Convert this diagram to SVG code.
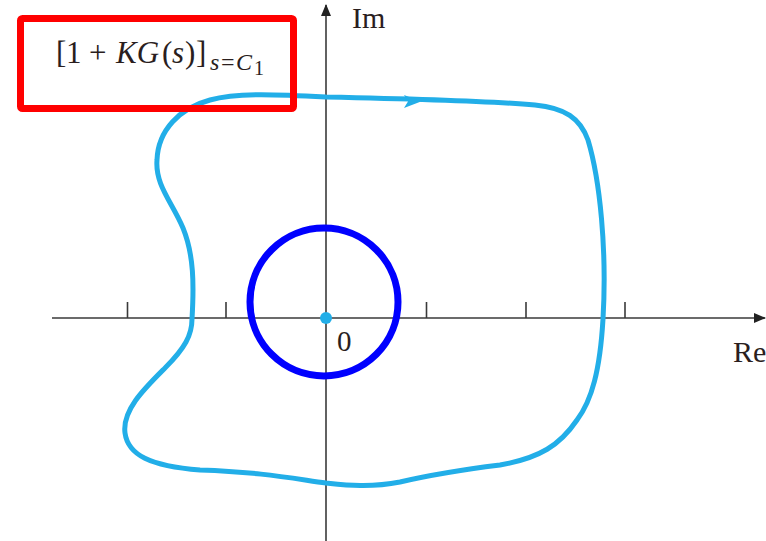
<svg xmlns="http://www.w3.org/2000/svg" width="766" height="541" viewBox="0 0 766 541">
<style>
.axis{stroke:#3a3a3a;stroke-width:1.6;fill:none}
.tick{stroke:#3a3a3a;stroke-width:1.6}
.lbl{font-family:"Liberation Serif","Times New Roman",serif;fill:#2a1e1e}
.contour{fill:none;stroke:#22aee8;stroke-width:5;stroke-linejoin:round}
</style>
<defs>
<marker id="ah" viewBox="0 0 12 10" refX="11" refY="5" markerWidth="12" markerHeight="10" markerUnits="userSpaceOnUse" orient="auto">
<path d="M0,0 L12,5 L0,10 Z" fill="#222"/>
</marker>
</defs>
<rect width="766" height="541" fill="#fff"/>
<g id="connectors">
<line class="axis" x1="52" y1="318" x2="765" y2="318" marker-end="url(#ah)"/>
<line class="axis" x1="326" y1="541" x2="326" y2="5" marker-end="url(#ah)"/>
<line class="tick" x1="127.5" y1="302" x2="127.5" y2="318"/>
<line class="tick" x1="226" y1="302" x2="226" y2="318"/>
<line class="tick" x1="426.5" y1="302" x2="426.5" y2="318"/>
<line class="tick" x1="526" y1="302" x2="526" y2="318"/>
<line class="tick" x1="625" y1="302" x2="625" y2="318"/>
</g>
<g id="contour">
<path class="contour" d="M 326 97 C 420 99, 500 102, 535 105 C 565 108, 580 118, 588 140 C 600 180, 607 250, 603 319 C 600 370, 592 400, 577 420 C 560 445, 540 458, 500 465 C 460 470, 430 475, 400 482 C 370 488, 345 485, 326 483 C 290 478, 260 472, 200 470 C 150 466, 128 455, 125 433 C 122 410, 145 388, 165 368 C 185 348, 192 335, 192 319 C 194 285, 194 255, 183 228 C 172 202, 155 185, 157 160 C 158 130, 180 108, 210 100 C 235 93, 270 94, 326 97 Z"/>
<polygon points="421,101.5 404,95 408,101.5 404,108" fill="#22aee8"/>
</g>
<g id="circle">
<circle cx="324" cy="302" r="74" fill="none" stroke="#0000ff" stroke-width="7"/>
</g>
<g id="origin">
<circle cx="326" cy="318" r="6" fill="#22aee8"/>
<text class="lbl" x="337" y="351" font-size="29">0</text>
</g>
<g id="labels">
<text class="lbl" x="352" y="28" font-size="30">Im</text>
<text class="lbl" x="733" y="362" font-size="30">Re</text>
</g>
<g id="formula">
<rect x="20.5" y="18.5" width="273" height="90" rx="2" fill="none" stroke="#ff0000" stroke-width="7"/>
<text class="lbl" y="63" font-size="31"><tspan x="56">[</tspan><tspan x="66">1</tspan><tspan x="89">+</tspan><tspan x="116" font-style="italic">KG</tspan><tspan x="162">(</tspan><tspan x="172" font-style="italic">s</tspan><tspan x="185">)</tspan><tspan x="196">]</tspan><tspan x="210" y="70" font-size="24" font-style="italic">s</tspan><tspan x="221" font-size="24">=</tspan><tspan x="236" font-size="24" font-style="italic">C</tspan><tspan x="254" y="75" font-size="20">1</tspan></text>
</g>
</svg>
